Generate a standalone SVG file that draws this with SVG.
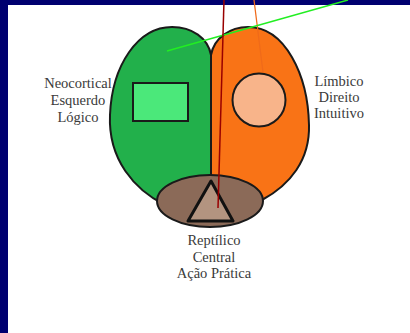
<svg xmlns="http://www.w3.org/2000/svg" width="410" height="333" viewBox="0 0 410 333">
<style>
.lbl{font-family:"Liberation Serif","DejaVu Serif",serif;font-size:14.5px;fill:#3a3a3a;text-anchor:middle}
.ol{stroke:#1a1a1a;stroke-width:2}
</style>
<rect x="0" y="0" width="410" height="333" fill="#000070"/>
<rect x="8" y="5" width="402" height="328" fill="#ffffff"/>
<g id="left-lobe">
<path class="ol" d="M211,55 C208,38 192,27 172,27 C138,27 112,65 110,115 C108,160 135,190 165,205 L211,205 Z" fill="#22b04b"/>
<rect class="ol" x="133" y="83" width="55" height="38" fill="#4be87a"/>
</g>
<g id="right-lobe">
<path class="ol" d="M211,55 C214,38 230,27 248,27 C285,27 308,75 309,125 C310,160 290,185 262,200 L211,205 Z" fill="#f97316"/>
<circle class="ol" cx="259" cy="100" r="26.5" fill="#f8b48a"/>
</g>
<g id="reptilian">
<ellipse class="ol" cx="210" cy="201" rx="53" ry="26" fill="#8b6a58"/>
<polygon points="211,181 188,221 233,221" fill="#b39480" stroke="#111" stroke-width="3" stroke-linejoin="round"/>
</g>
<g id="connectors" fill="none">
<line x1="254" y1="0" x2="263" y2="72" stroke="#f06a1a" stroke-width="1.2"/>
<line x1="348" y1="0" x2="167" y2="51" stroke="#22ee22" stroke-width="1.5"/>
<line x1="224" y1="0" x2="218" y2="208" stroke="#990000" stroke-width="1.5"/>
</g>
<g id="labels">
<text class="lbl" x="78" y="88">Neocortical</text>
<text class="lbl" x="78" y="105">Esquerdo</text>
<text class="lbl" x="78" y="122">Lógico</text>
<text class="lbl" x="339" y="86">Límbico</text>
<text class="lbl" x="339" y="102">Direito</text>
<text class="lbl" x="339" y="118">Intuitivo</text>
<text class="lbl" x="214" y="245">Reptílico</text>
<text class="lbl" x="214" y="262">Central</text>
<text class="lbl" x="214" y="278">Ação Prática</text>
</g>
</svg>
